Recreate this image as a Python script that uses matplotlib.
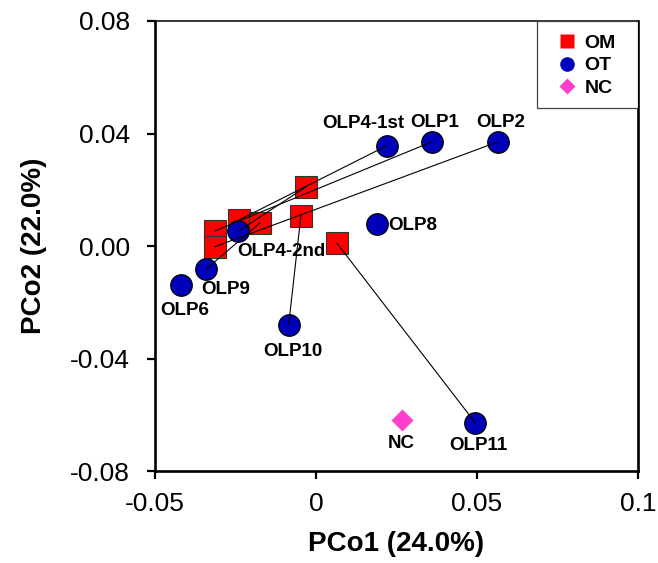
import matplotlib
matplotlib.use('Agg')
import matplotlib.pyplot as plt
from matplotlib.lines import Line2D
from matplotlib.patches import Rectangle

plt.rcParams['font.family'] = ['Liberation Sans', 'DejaVu Sans']

# ----------------------------------------------------------------------
#   data
# ----------------------------------------------------------------------
om_x = [-0.0030, -0.0047, 0.0065, -0.0240, -0.0175, -0.0313, -0.0313]
om_y = [0.0211, 0.0107, 0.0010, 0.0092, 0.0081, 0.0054, -0.0002]
om_pair = ['OLP4-2nd', 'OLP10', 'OLP11', 'OLP4-1st', 'OLP9', 'OLP1', 'OLP2']

ot_names = ['OLP4-1st', 'OLP1', 'OLP2', 'OLP8', 'OLP4-2nd', 'OLP9', 'OLP6', 'OLP10', 'OLP11']
ot_x = [0.0219, 0.0359, 0.0564, 0.0188, -0.0241, -0.0341, -0.0418, -0.0085, 0.0495]
ot_y = [0.0356, 0.0370, 0.0370, 0.0078, 0.0053, -0.0082, -0.0139, -0.0281, -0.0629]

nc_x = [0.0266]
nc_y = [-0.0619]

# label offsets (points) relative to each marker
label_offsets = {'OLP4-1st': (-17, 16), 'OLP1': (2, 14), 'OLP2': (2, 14),
                 'OLP8': (26, -1), 'OLP4-2nd': (31, -15), 'OLP9': (14, -15),
                 'OLP6': (2, -18), 'OLP10': (3, -19), 'OLP11': (2, -16.5)}

om_color = '#ff0000'
ot_color = '#0000bb'
nc_color = '#ff3fcc'

fig = plt.figure(figsize=(6.58, 5.63), dpi=100)
ax = fig.add_axes([0.2356, 0.1634, 0.734, 0.7993])

# connecting lines (drawn over the markers)
for i in range(len(om_x)):
    j = ot_names.index(om_pair[i])
    ax.plot([om_x[i], ot_x[j]], [om_y[i], ot_y[j]], color='black', linewidth=0.8, zorder=4)

ax.plot(om_x, om_y, linestyle='none', marker='s', markersize=15.5, markerfacecolor=om_color,
        markeredgecolor='#333333', markeredgewidth=0.8, zorder=3)
ax.plot(ot_x, ot_y, linestyle='none', marker='o', markersize=15.5, markerfacecolor=ot_color,
        markeredgecolor='black', markeredgewidth=0.9, zorder=3)
ax.plot(nc_x, nc_y, linestyle='none', marker='D', markersize=11, markerfacecolor=nc_color,
        markeredgecolor='none', zorder=3)

for name, x, y in zip(ot_names, ot_x, ot_y):
    ax.annotate(name, (x, y), xytext=label_offsets[name], textcoords='offset points',
                ha='center', va='center', fontsize=13.5, fontweight='bold', zorder=5)
ax.annotate('NC', (nc_x[0], nc_y[0]), xytext=(0, -16.5), textcoords='offset points',
            ha='center', va='center', fontsize=13.5, fontweight='bold', zorder=5)

ax.set_xlim(-0.05, 0.1)
ax.set_ylim(-0.08, 0.08)
ax.set_xticks([-0.05, 0, 0.05, 0.1])
ax.set_xticklabels(['-0.05', '0', '0.05', '0.1'])
ax.set_yticks([-0.08, -0.04, 0.0, 0.04, 0.08])
ax.set_yticklabels(['-0.08', '-0.04', '0.00', '0.04', '0.08'])
ax.tick_params(axis='both', direction='out', length=6, width=1.6, labelsize=19)
ax.tick_params(axis='y', pad=12)
ax.tick_params(axis='x', pad=9)

for side in ['left', 'bottom', 'right']:
    ax.spines[side].set_linewidth(1.9)
ax.spines['top'].set_linewidth(1.1)

ax.set_xlabel('PCo1 (24.0%)', fontsize=20, fontweight='bold', labelpad=11)
ax.set_ylabel('PCo2 (22.0%)', fontsize=20, fontweight='bold', labelpad=17)

# legend: entries without frame, box drawn separately to match the wide box
ax.add_patch(Rectangle((0.791, 0.807), 0.209, 0.193, transform=ax.transAxes,
                       facecolor='white', edgecolor='#444444', linewidth=0.9, zorder=6))
handles = [Line2D([], [], linestyle='none', marker='s', markersize=10, markerfacecolor=om_color,
                  markeredgecolor='none', label='OM'),
           Line2D([], [], linestyle='none', marker='o', markersize=10.5, markerfacecolor=ot_color,
                  markeredgecolor='none', label='OT'),
           Line2D([], [], linestyle='none', marker='D', markersize=8, markerfacecolor=nc_color,
                  markeredgecolor='none', label='NC')]
leg = ax.legend(handles=handles, loc='center', bbox_to_anchor=(0.891, 0.901), frameon=False,
                prop={'size': 14, 'weight': 'bold'}, handletextpad=0.3, labelspacing=0.25,
                borderpad=0, borderaxespad=0, handlelength=1.2)
leg.set_zorder(7)

fig.savefig('out.png', dpi=100)
